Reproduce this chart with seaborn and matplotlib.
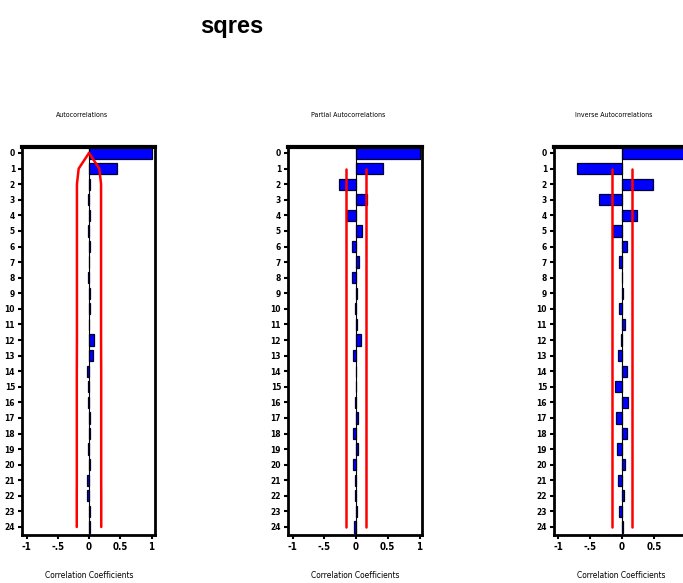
import numpy as np
import pandas as pd
import matplotlib
matplotlib.use("Agg")
import matplotlib.pyplot as plt
import seaborn as sns

lags = list(range(25))
acf = [1.0, 0.45, 0.01, -0.01, 0.01, -0.01, 0.01, 0.0, -0.01, 0.01, 0.01, 0.0,
       0.08, 0.06, -0.03, -0.02, -0.02, 0.01, 0.01, -0.01, 0.01, -0.04, -0.04, 0.01, 0.01]
pacf = [1.0, 0.42, -0.27, 0.17, -0.14, 0.10, -0.07, 0.05, -0.06, 0.01, -0.02, 0.01,
        0.08, -0.05, 0.0, 0.0, -0.02, 0.03, -0.04, 0.03, -0.04, -0.02, -0.02, 0.01, -0.03]
iacf = [1.0, -0.70, 0.48, -0.36, 0.23, -0.14, 0.08, -0.04, 0.0, 0.02, -0.04, 0.04,
        -0.02, -0.06, 0.08, -0.11, 0.10, -0.10, 0.08, -0.08, 0.05, -0.06, 0.03, -0.04, 0.01]
acf_band = [0.0, 0.165, 0.193, 0.193, 0.193, 0.193, 0.193, 0.193, 0.193, 0.193, 0.193, 0.193,
            0.193, 0.194, 0.195, 0.195, 0.195, 0.195, 0.195, 0.195, 0.195, 0.195, 0.196, 0.196, 0.196]
pacf_band = 0.163
iacf_band = 0.163
xtick_vals = [-1, -0.5, 0, 0.5, 1]
xtick_labels = ["-1", "-.5", "0", "0.5", "1"]
panel_titles = ["Autocorrelations", "Partial Autocorrelations", "Inverse Autocorrelations"]
main_title = "sqres"
xlabel = "Correlation Coefficients"

sns.set_theme(style="white")
plt.rcParams['font.family'] = ['DejaVu Sans']
plt.rcParams['text.color'] = 'black'
plt.rcParams['xtick.color'] = 'black'
plt.rcParams['ytick.color'] = 'black'

W, H = 683, 583
fig = plt.figure(figsize=(W / 100, H / 100), dpi=100)

def fx(px):
    return px / W

def fy(py):
    return 1 - py / H

# panel pixel geometry: (left frame, right frame, zero x, px per unit)
panels = [
    (22, 155, 89, 62.5),
    (288, 422, 356, 63.5),
    (554, 689, 622, 64.0),
]
top_px, bot_px = 147, 535
row0_px, row24_px = 153, 527
rowsp = (row24_px - row0_px) / 24
ylim = (24 + (bot_px - row24_px) / rowsp, -(row0_px - top_px) / rowsp)

series = [acf, pacf, iacf]
title_x = [82, 348, 614]
label_x = [89, 355, 621]

for i, (vals, (l, r, z, s)) in enumerate(zip(series, panels)):
    ax = fig.add_axes([fx(l), fy(bot_px), fx(r - l), (bot_px - top_px) / H])
    df = pd.DataFrame({"lag": [str(v) for v in lags], "value": vals})
    sns.barplot(data=df, y="lag", x="value", order=[str(v) for v in lags], orient="h",
                color="#0000FF", saturation=1, edgecolor="#000033", linewidth=0.9,
                width=0.72, ax=ax)
    for p in ax.patches:
        p.set_facecolor("#0000FF")
    ax.set_xlim((l - z) / s, (r - z) / s)
    ax.set_ylim(*ylim)
    ax.axvline(0, color="black", lw=0.8, zorder=3)
    # confidence bands
    if i == 0:
        ax.plot(acf_band, lags, color="red", lw=1.8, zorder=4)
        ax.plot([-b for b in acf_band], lags, color="red", lw=1.8, zorder=4)
    else:
        b = pacf_band if i == 1 else iacf_band
        ax.plot([b, b], [1, 24], color="red", lw=1.8, zorder=4)
        ax.plot([-b, -b], [1, 24], color="red", lw=1.8, zorder=4)
    for sp in ax.spines.values():
        sp.set_visible(True)
        sp.set_color("black")
        sp.set_linewidth(2.0)
    ax.spines["top"].set_linewidth(3.0)
    if i == 2:
        tv, tl = xtick_vals[:-1], xtick_labels[:-1]
    else:
        tv, tl = xtick_vals, xtick_labels
    ax.set_xticks(tv)
    ax.set_xticklabels(tl, fontsize=7, fontweight="bold", fontstretch="condensed")
    ax.set_yticks(lags)
    ax.set_yticklabels([str(v) for v in lags], fontsize=6, fontweight="bold", fontstretch="condensed")
    ax.tick_params(axis="both", direction="out", length=3, width=1.5, colors="black",
                   left=True, bottom=True, pad=2)
    ax.set_xlabel("")
    ax.set_ylabel("")
    fig.text(fx(title_x[i]), fy(115), panel_titles[i], fontsize=5, ha="center", va="center",
             fontstretch="condensed", color="black")
    fig.text(fx(label_x[i]), fy(576), xlabel, fontsize=6, ha="center", va="center",
             fontstretch="condensed", color="black")

fig.text(fx(232), fy(27), main_title, fontsize=17, fontweight="bold", ha="center", va="center",
         family=["Liberation Sans", "DejaVu Sans"], color="black")

fig.savefig("out.png", dpi=100)
